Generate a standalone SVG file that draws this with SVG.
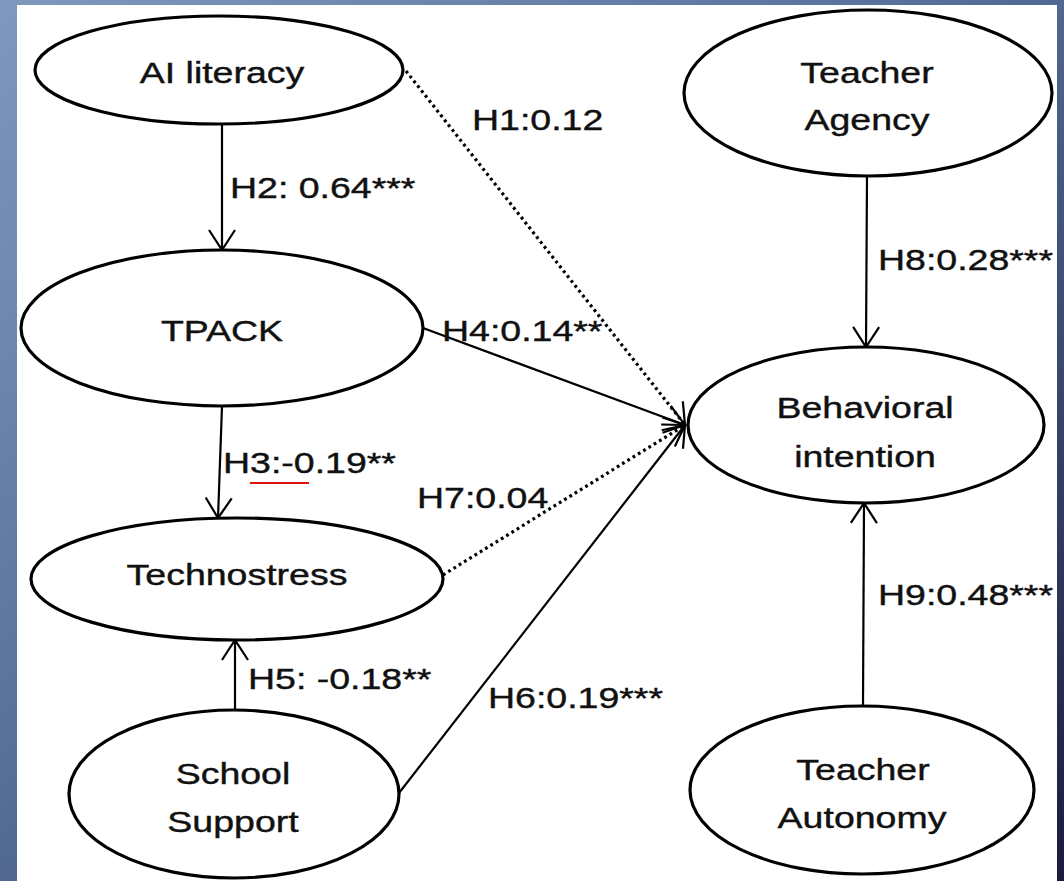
<svg xmlns="http://www.w3.org/2000/svg" width="1064" height="881" viewBox="0 0 1064 881">
  <defs>
    <linearGradient id="bg" x1="0" y1="0" x2="1" y2="1">
      <stop offset="0" stop-color="#7e99bd"/>
      <stop offset="0.45" stop-color="#566f98"/>
      <stop offset="1" stop-color="#1b1a3f"/>
    </linearGradient>
    <marker id="arr" markerUnits="userSpaceOnUse" viewBox="-24 -16 26 32" refX="0" refY="0" markerWidth="26" markerHeight="32" orient="auto" overflow="visible">
      <path d="M-20,-13 L0,0 L-20,13" fill="none" stroke="#000" stroke-width="2.2" stroke-dasharray="none"/>
    </marker>
    <style>
      .node ellipse { fill: #fff; stroke: #000; stroke-width: 3.2; }
      .lbl { font-family: "Liberation Sans", Arial, Helvetica, sans-serif; font-size: 30px; fill: #111; stroke: #111; stroke-width: 0.4; }
      .mid { text-anchor: middle; }
      .solid { fill: none; stroke: #000; stroke-width: 2.2; }
      .dot { fill: none; stroke: #000; stroke-width: 3.2; stroke-dasharray: 2.8 3.4; }
    </style>
  </defs>

  <rect x="0" y="0" width="1064" height="881" fill="url(#bg)"/>
  <rect x="17" y="5" width="1040" height="876" fill="#fff"/>

  <g id="connectors">
    <line class="solid" x1="222" y1="124" x2="222" y2="250" marker-end="url(#arr)"/>
    <line class="solid" x1="222" y1="406" x2="218" y2="518" marker-end="url(#arr)"/>
    <line class="solid" x1="235" y1="710" x2="235" y2="640" marker-end="url(#arr)"/>
    <line class="dot" x1="406" y1="71" x2="685" y2="425" marker-end="url(#arr)"/>
    <line class="solid" x1="423" y1="328" x2="685" y2="425" marker-end="url(#arr)"/>
    <line class="dot" x1="443" y1="575" x2="685" y2="425" marker-end="url(#arr)"/>
    <line class="solid" x1="399" y1="793" x2="685" y2="425" marker-end="url(#arr)"/>
    <line class="solid" x1="867" y1="176" x2="866" y2="347" marker-end="url(#arr)"/>
    <line class="solid" x1="863" y1="706" x2="864" y2="503" marker-end="url(#arr)"/>
    <line x1="250" y1="483" x2="309" y2="483" stroke="#e01010" stroke-width="2"/>
  </g>

  <g id="edge-labels" class="lbl">
    <text transform="translate(230,198) scale(1.25,1)">H2: 0.64***</text>
    <text transform="translate(472,130) scale(1.25,1)">H1:0.12</text>
    <text transform="translate(878,270) scale(1.25,1)">H8:0.28***</text>
    <text transform="translate(442,341) scale(1.25,1)">H4:0.14**</text>
    <text transform="translate(223,473) scale(1.25,1)">H3:-0.19**</text>
    <text transform="translate(417,508) scale(1.25,1)">H7:0.04</text>
    <text transform="translate(248,689) scale(1.25,1)">H5: -0.18**</text>
    <text transform="translate(488,708) scale(1.25,1)">H6:0.19***</text>
    <text transform="translate(878,605) scale(1.25,1)">H9:0.48***</text>
  </g>

  <g id="ai-literacy" class="node">
    <ellipse cx="219" cy="70" rx="184" ry="54"/>
    <text class="lbl mid" transform="translate(222,83) scale(1.25,1)">AI literacy</text>
  </g>
  <g id="tpack" class="node">
    <ellipse cx="222" cy="328" rx="201" ry="78"/>
    <text class="lbl mid" transform="translate(222,341) scale(1.25,1)">TPACK</text>
  </g>
  <g id="technostress" class="node">
    <ellipse cx="237" cy="579" rx="206" ry="61"/>
    <text class="lbl mid" transform="translate(237,585) scale(1.25,1)">Technostress</text>
  </g>
  <g id="school-support" class="node">
    <ellipse cx="234" cy="794" rx="165" ry="84"/>
    <text class="lbl mid" transform="translate(233,784) scale(1.25,1)">School</text>
    <text class="lbl mid" transform="translate(233,832) scale(1.25,1)">Support</text>
  </g>
  <g id="teacher-agency" class="node">
    <ellipse cx="868" cy="93" rx="184" ry="83"/>
    <text class="lbl mid" transform="translate(867,83) scale(1.25,1)">Teacher</text>
    <text class="lbl mid" transform="translate(867,130) scale(1.25,1)">Agency</text>
  </g>
  <g id="behavioral-intention" class="node">
    <ellipse cx="866" cy="425" rx="178" ry="78"/>
    <text class="lbl mid" transform="translate(865,418) scale(1.25,1)">Behavioral</text>
    <text class="lbl mid" transform="translate(865,467) scale(1.25,1)">intention</text>
  </g>
  <g id="teacher-autonomy" class="node">
    <ellipse cx="862" cy="790" rx="172" ry="84"/>
    <text class="lbl mid" transform="translate(863,780) scale(1.25,1)">Teacher</text>
    <text class="lbl mid" transform="translate(862,828) scale(1.25,1)">Autonomy</text>
  </g>
</svg>
